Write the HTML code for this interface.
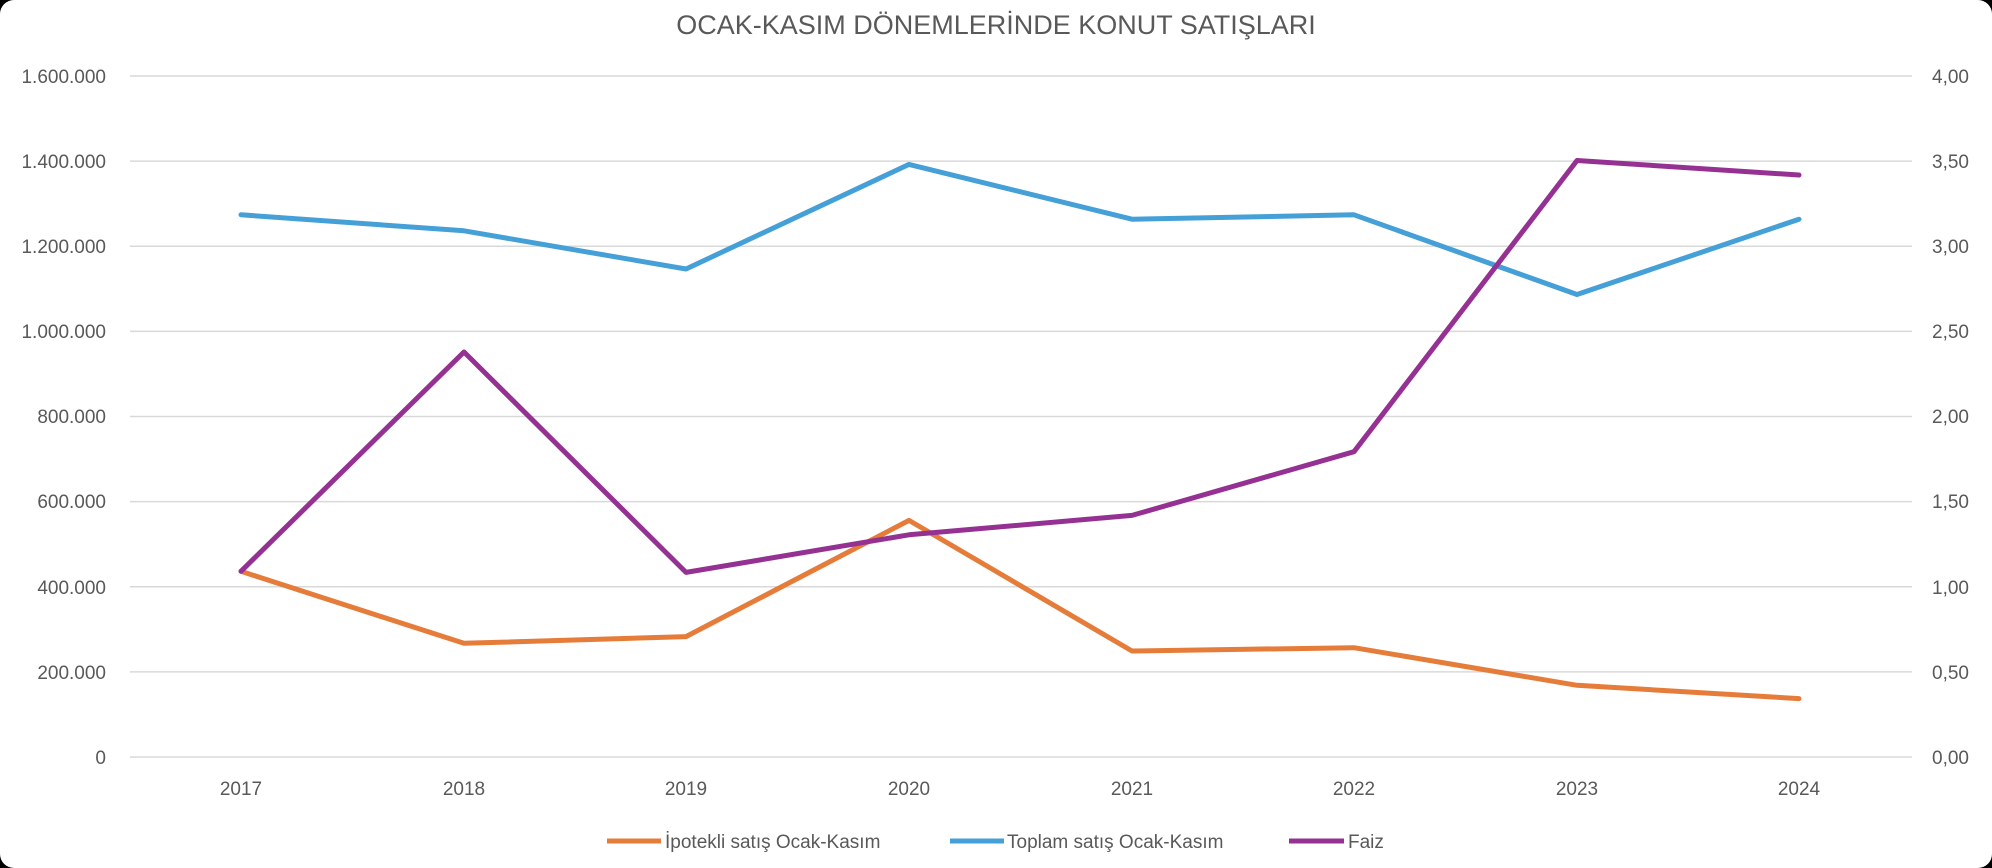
<!DOCTYPE html>
<html><head><meta charset="utf-8"><style>
html,body{margin:0;padding:0;background:#000;}
svg{display:block;}
text{font-family:"Liberation Sans",sans-serif;fill:#595959;}
</style></head><body>
<svg width="1992" height="868" xmlns="http://www.w3.org/2000/svg">
<rect x="0" y="0" width="1992" height="868" rx="14" fill="#fff"/>
<text x="996" y="34" font-size="27" text-anchor="middle">OCAK-KASIM DÖNEMLERİNDE KONUT SATIŞLARI</text>
<g stroke="#d9d9d9" stroke-width="1.5">
<line x1="130" x2="1912" y1="76" y2="76"/>
<line x1="130" x2="1912" y1="161.1" y2="161.1"/>
<line x1="130" x2="1912" y1="246.3" y2="246.3"/>
<line x1="130" x2="1912" y1="331.4" y2="331.4"/>
<line x1="130" x2="1912" y1="416.5" y2="416.5"/>
<line x1="130" x2="1912" y1="501.6" y2="501.6"/>
<line x1="130" x2="1912" y1="586.8" y2="586.8"/>
<line x1="130" x2="1912" y1="671.9" y2="671.9"/>
<line x1="130" x2="1912" y1="757" y2="757"/>
</g>
<g font-size="19" text-anchor="end">
<text x="106" y="83">1.600.000</text>
<text x="106" y="168">1.400.000</text>
<text x="106" y="253">1.200.000</text>
<text x="106" y="338">1.000.000</text>
<text x="106" y="423">800.000</text>
<text x="106" y="508">600.000</text>
<text x="106" y="594">400.000</text>
<text x="106" y="679">200.000</text>
<text x="106" y="764">0</text>
</g>
<g font-size="19">
<text x="1932" y="83">4,00</text>
<text x="1932" y="168">3,50</text>
<text x="1932" y="253">3,00</text>
<text x="1932" y="338">2,50</text>
<text x="1932" y="423">2,00</text>
<text x="1932" y="508">1,50</text>
<text x="1932" y="594">1,00</text>
<text x="1932" y="679">0,50</text>
<text x="1932" y="764">0,00</text>
</g>
<g font-size="19" text-anchor="middle">
<text x="241" y="795">2017</text>
<text x="464" y="795">2018</text>
<text x="686" y="795">2019</text>
<text x="909" y="795">2020</text>
<text x="1132" y="795">2021</text>
<text x="1354" y="795">2022</text>
<text x="1577" y="795">2023</text>
<text x="1799" y="795">2024</text>
</g>
<g fill="none" stroke-width="5" stroke-linejoin="round" stroke-linecap="round">
<polyline stroke="#E57C3A" points="241,571.3 464,643.3 686,636.6 909,520.4 1132,651 1354,647.7 1577,685.3 1799,698.6"/>
<polyline stroke="#45A0D8" points="241,214.8 464,230.8 686,269 909,164.4 1132,219.2 1354,214.8 1577,294.5 1799,219.2"/>
<polyline stroke="#953193" points="241,571.3 464,352 686,572.4 909,534.8 1132,515.4 1354,451.7 1577,160.5 1799,175"/>
</g>
<g stroke-width="5">
<line x1="607" x2="661" y1="841" y2="841" stroke="#E57C3A"/>
<line x1="950" x2="1004" y1="841" y2="841" stroke="#45A0D8"/>
<line x1="1289" x2="1344" y1="841" y2="841" stroke="#953193"/>
</g>
<g font-size="19">
<text x="665" y="848">İpotekli satış Ocak-Kasım</text>
<text x="1007" y="848">Toplam satış Ocak-Kasım</text>
<text x="1348" y="848">Faiz</text>
</g>
</svg>
</body></html>
